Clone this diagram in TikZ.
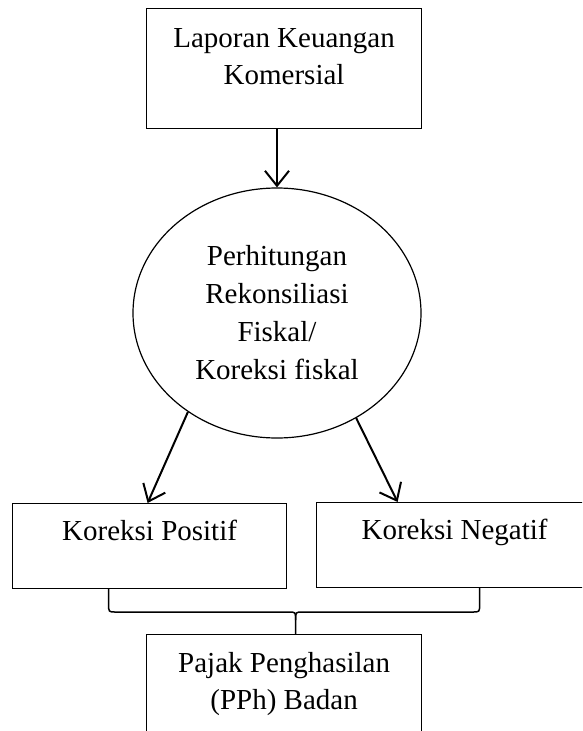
\documentclass[tikz,border=0pt]{standalone}
\usepackage{fontspec}
\setmainfont{Liberation Serif}
\usetikzlibrary{shapes.geometric,arrows.meta,calc}
\newcommand\bxtext[4]{\vbox to #2{\hsize=#1\parindent=0pt\centering\baselineskip=37pt\rule{0pt}{#3}#4\par\vfill}}
\tikzset{
  boxnode/.style={draw, line width=1.2pt, inner sep=0pt, anchor=north west},
  ellnode/.style={draw, ellipse, line width=1.2pt, inner sep=0pt, minimum width=288pt, minimum height=250pt, align=center},
  flowarrow/.style={line width=2pt, -{Straight Barb[length=15pt,width=24pt,line width=2pt]}},
  bracepath/.style={line width=1.5pt}
}
\begin{document}
\begin{tikzpicture}[x=1pt,y=-1pt,font=\fontsize{29pt}{38pt}\selectfont]
\clip (0,0) rectangle (582,731);
\fill[white] (0,0) rectangle (582,731);
\node[boxnode] (top) at (146,8) {\bxtext{275pt}{120pt}{39pt}{Laporan Keuangan\\Komersial}};
\node[ellnode] (ell) at (277,313) {\baselineskip=38.5pt Perhitungan\\Rekonsiliasi\\Fiskal/\\Koreksi fiskal};
\node[boxnode] (lbox) at (12,503) {\bxtext{274pt}{85pt}{37pt}{Koreksi Positif}};
\node[boxnode] (rbox) at (316,502) {\bxtext{276pt}{85pt}{37pt}{Koreksi Negatif}};
\node[boxnode] (pbox) at (146,634) {\bxtext{275pt}{120pt}{38pt}{Pajak Penghasilan\\(PPh) Badan}};
\draw[flowarrow] (ell.north |- top.south) -- (ell.north);
\draw[flowarrow] (ell.-132.5) -- ([xshift=-2pt]lbox.north);
\draw[flowarrow] (ell.-53) -- ([xshift=-57pt]rbox.north);
\coordinate (bl) at ([xshift=-41pt]lbox.south);
\coordinate (br) at ([xshift=25pt]rbox.south);
\coordinate (bm) at ([xshift=11.5pt]pbox.north);
\draw[bracepath] (bl) -- ($(bl|-bm)+(0,30pt)$) .. controls ($(bl|-bm)+(0,22pt)$) .. ($(bl|-bm)+(7pt,22pt)$)
  -- ($(bm)+(-7pt,22pt)$) .. controls ($(bm)+(0,22pt)$) .. ($(bm)+(0,14pt)$) -- (bm);
\draw[bracepath] (br) -- ($(br|-bm)+(0,30pt)$) .. controls ($(br|-bm)+(0,22pt)$) .. ($(br|-bm)+(-7pt,22pt)$)
  -- ($(bm)+(7pt,22pt)$) .. controls ($(bm)+(0,22pt)$) .. ($(bm)+(0,14pt)$);
\end{tikzpicture}
\end{document}
